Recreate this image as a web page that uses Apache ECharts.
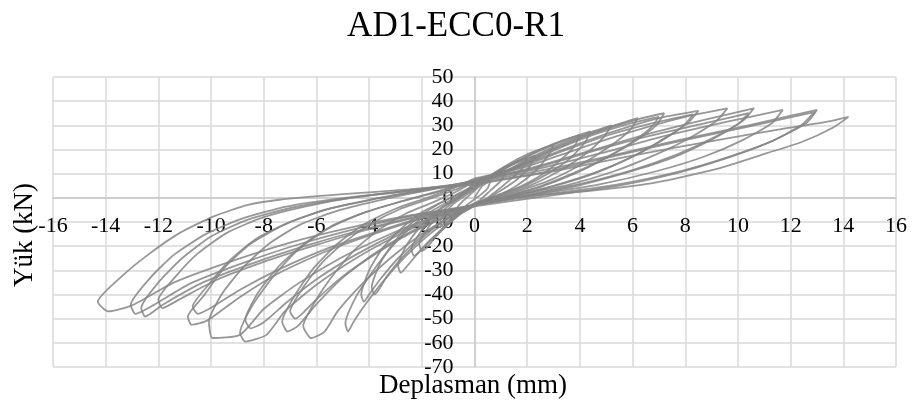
<!DOCTYPE html>
<html>
<head>
<meta charset="utf-8">
<script src="https://cdn.jsdelivr.net/npm/echarts@6/dist/echarts.min.js"></script>
<style>
html,body{margin:0;padding:0;background:#fff;}
#chart{width:912px;height:405px;}
</style>
</head>
<body>
<div id="chart"></div>
<script>
// Chart text
const chartTitle = 'AD1-ECC0-R1';
const xName = 'Deplasman (mm)';
const yName = 'Yük (kN)';

// Axis ranges / ticks
const xTicks = [-16, 16, 2];
const yTicks = [-70, 50, 10];

// Hysteresis cycles: [displacement (mm), load (kN)]
const cycle00 = [[0,0],[0.3,5],[0.6,7],[0.5,4],[0.2,1],[-0.3,-3],[-0.6,-6],[-0.7,-5],[-0.5,-2],[-0.2,1],[0,3]];
const cycle01 = [[0.4,6.5],[0.8,9],[1.2,11],[1.0,7],[0.6,3],[0.2,-1],[-0.4,-4.5],[-0.8,-8],[-1.1,-11],[-1.2,-12],[-1.3,-10],[-1.1,-6],[-0.8,-2.5],[-0.4,0.5],[0,3.5]];
const cycle02 = [[0.5,8],[1.0,11.5],[1.5,14],[2.0,16],[1.8,12],[1.3,7],[0.8,2.5],[0.3,-1.5],[-0.5,-6],[-1.0,-11],[-1.5,-16.5],[-1.8,-20.5],[-2.0,-22],[-2.1,-19],[-1.8,-13],[-1.4,-7.5],[-0.9,-2.5],[-0.4,1.5],[0,4.5]];
const cycle02b = [[0.5,8.5],[1.1,12.5],[1.7,15.5],[2.3,17.5],[2.1,13],[1.6,7.5],[1.0,3],[0.4,-1],[-0.5,-6.5],[-1.1,-12],[-1.7,-18],[-2.1,-22.5],[-2.3,-24],[-2.4,-21],[-2.1,-15],[-1.7,-9],[-1.2,-4],[-0.6,0],[0,4]];
const cycle03 = [[0.6,9],[1.3,14],[2.1,18.5],[2.6,20.5],[3.0,22],[2.8,17.5],[2.3,11],[1.6,5],[0.8,0.5],[0.2,-2],[-0.6,-7],[-1.3,-13.5],[-2.0,-21],[-2.5,-27.5],[-2.8,-31],[-2.9,-28],[-2.6,-20],[-2.1,-12.5],[-1.5,-6],[-0.9,-1.5],[-0.3,2.5],[0,5]];
const cycle04 = [[0.8,10],[1.7,15.5],[2.6,20.5],[3.4,24],[4.0,26],[3.8,21.5],[3.2,15],[2.4,8.5],[1.5,3.5],[0.6,0],[0,-2.5],[-0.8,-7],[-1.7,-14],[-2.6,-23],[-3.3,-32],[-3.6,-37.5],[-3.8,-40],[-3.9,-37],[-3.6,-27.5],[-3.1,-19],[-2.5,-11.5],[-1.8,-5.5],[-1.0,-0.5],[-0.3,3],[0,5.5]];
const cycle04b = [[0.9,10.5],[1.9,16.5],[2.9,21.5],[3.7,25],[4.4,27.5],[4.2,23],[3.6,16],[2.7,9.5],[1.7,4],[0.7,0.5],[0,-2.5],[-0.9,-7.5],[-1.9,-15],[-2.9,-25],[-3.6,-34],[-4.0,-40],[-4.2,-43],[-4.3,-40],[-4.0,-30],[-3.5,-21],[-2.8,-13],[-2.0,-6],[-1.1,-1],[-0.3,3.5],[0,6]];
const cycle05 = [[1.0,10],[2.2,17],[3.4,23],[4.5,27.5],[5.2,30],[4.9,25],[4.2,18],[3.2,11],[2.2,5.5],[1.2,1.5],[0.3,-1.5],[0,-3],[-0.8,-8],[-1.7,-15],[-2.6,-24],[-3.5,-35],[-4.2,-45],[-4.6,-51.5],[-4.8,-55.3],[-4.9,-52],[-4.5,-41],[-3.9,-31],[-3.2,-21],[-2.5,-13],[-1.7,-6],[-0.9,-1],[-0.3,3],[0,6]];
const cycle06 = [[1.2,11],[2.6,18.5],[4.0,25],[5.3,30],[6.2,33],[5.9,28],[5.1,21],[4.0,13.5],[2.8,7],[1.6,2.5],[0.5,-1],[0,-3],[-1.0,-8.5],[-2.0,-15],[-3.2,-25],[-4.3,-36],[-5.2,-47],[-5.7,-55.5],[-6.2,-58],[-6.5,-53],[-6.0,-42],[-5.3,-31],[-4.5,-21],[-3.6,-13],[-2.6,-6.5],[-1.6,-2],[-0.7,2.5],[0,7]];
const cycle07 = [[1.5,12.5],[3.0,20],[4.6,27],[6.2,32.5],[7.2,35],[6.9,30],[6.1,23.5],[5.0,16.5],[3.8,10],[2.5,4.5],[1.2,0.5],[0,-3],[-1.2,-8],[-2.5,-14.5],[-3.8,-23],[-5.0,-33],[-6.0,-44],[-6.7,-53],[-7.1,-55.3],[-7.3,-51.2],[-6.8,-40],[-6.1,-29],[-5.2,-19],[-4.2,-11],[-3.0,-4.5],[-1.8,0],[-0.8,4],[0,8]];
const cycle07b = [[1.5,12],[3.0,19.5],[4.5,26],[6.0,31],[7.0,33.5],[6.7,29],[5.9,22.5],[4.8,15.5],[3.6,9.5],[2.3,4],[1.0,0],[0,-3],[-1.2,-8.5],[-2.5,-15],[-3.8,-23.5],[-5.0,-32.5],[-6.0,-42],[-6.5,-47.5],[-6.8,-50],[-7.0,-47],[-6.5,-37],[-5.8,-27],[-4.9,-18],[-3.9,-10.5],[-2.8,-4.5],[-1.6,0],[-0.7,3.5],[0,7]];
const cycle08 = [[1.7,13],[3.5,20.5],[5.3,27.5],[7.0,33],[8.5,36],[8.1,31],[7.2,24.5],[6.0,17],[4.6,10.5],[3.0,5],[1.5,1],[0,-3],[-1.5,-8.5],[-3.0,-16],[-4.5,-25],[-6.0,-36],[-7.2,-47],[-7.9,-56.7],[-8.7,-59.5],[-8.9,-56],[-8.4,-44],[-7.6,-32],[-6.7,-21.5],[-5.6,-13],[-4.3,-6.5],[-2.8,-1.5],[-1.3,3],[0,7.5]];
const cycle08b = [[1.7,12.5],[3.4,19.5],[5.1,26],[6.8,31],[8.3,34.5],[7.9,29.5],[7.0,23],[5.8,16],[4.4,9.5],[2.9,4.5],[1.4,0.5],[0,-3],[-1.5,-8],[-3.0,-15],[-4.5,-23.5],[-5.9,-33],[-7.1,-43],[-8.0,-51.5],[-8.5,-54],[-8.7,-50.5],[-8.2,-39],[-7.4,-28],[-6.4,-18.5],[-5.3,-11],[-4.0,-5.5],[-2.6,-1],[-1.2,3],[0,7]];
const cycle09 = [[2.0,13],[4.0,20.5],[6.0,27.5],[8.0,33.5],[9.6,37],[9.2,32],[8.2,25],[6.9,18],[5.3,11],[3.6,5.5],[1.8,1.5],[0,-3],[-1.7,-8.5],[-3.4,-16],[-5.1,-25],[-6.7,-35.5],[-8.0,-46],[-8.9,-56.7],[-9.95,-58],[-10.08,-51.2],[-9.6,-40],[-8.8,-29],[-7.8,-19],[-6.6,-11],[-5.1,-5],[-3.4,-0.5],[-1.6,3.5],[0,7]];
const cycle10 = [[2.2,12.5],[4.4,19.5],[6.6,26.5],[8.8,32.5],[10.6,37],[10.2,32],[9.1,25],[7.7,18],[6.0,11.5],[4.1,6],[2.1,1.5],[0,-3],[-1.8,-8],[-3.7,-14.5],[-5.6,-22],[-7.4,-31],[-8.9,-41],[-10.15,-50.8],[-10.75,-52.5],[-10.88,-49.1],[-10.3,-40.8],[-9.5,-29],[-8.5,-19],[-7.2,-11],[-5.7,-5],[-3.8,-0.5],[-1.8,3.5],[0,7]];
const cycle10b = [[2.2,12],[4.4,19],[6.6,25.5],[8.8,31],[10.4,35],[10.0,30.5],[8.9,23.5],[7.5,16.5],[5.8,10.5],[3.9,5],[2.0,1],[0,-3],[-1.8,-7.5],[-3.7,-14],[-5.6,-21],[-7.4,-29.5],[-8.9,-38],[-10.0,-45.5],[-10.5,-48],[-10.7,-45],[-10.1,-36],[-9.3,-26],[-8.3,-17],[-7.0,-10],[-5.5,-4.5],[-3.6,0],[-1.7,3.5],[0,7]];
const cycle11 = [[2.4,12],[4.8,18.5],[7.2,25.5],[9.6,31.5],[11.7,36.4],[11.3,31],[10.2,24],[8.7,17],[6.9,11],[4.7,5.5],[2.4,1.5],[0,-3],[-2.0,-7.5],[-4.0,-13],[-6.0,-19.5],[-8.0,-26.5],[-9.8,-34],[-11.2,-42],[-11.85,-45.6],[-12.0,-42.2],[-11.3,-32],[-10.5,-23],[-9.4,-14.5],[-8.0,-8],[-6.4,-3.5],[-4.4,0.5],[-2.2,3.5],[0,6.5]];
const cycle12 = [[2.6,11.5],[5.2,17.5],[7.8,24],[10.4,30],[13.0,36.4],[12.6,31],[11.4,24],[9.8,17.5],[7.8,11],[5.4,5.5],[2.8,1.5],[0,-3],[-2.1,-7.5],[-4.2,-13],[-6.3,-19.5],[-8.4,-27],[-10.3,-35],[-11.8,-44],[-12.5,-49.1],[-12.65,-45.6],[-12.0,-35],[-11.1,-25],[-10.0,-16],[-8.6,-9],[-6.9,-4],[-4.7,0],[-2.3,3],[0,6]];
const cycle13 = [[2.6,10.5],[5.2,17],[7.8,23.5],[10.4,29.5],[12.9,35.5],[12.4,30],[11.2,23],[9.6,16.5],[7.6,10],[5.2,4.5],[2.6,0.5],[0,-3.5],[-2.2,-7],[-4.4,-12.5],[-6.6,-19],[-8.8,-27],[-10.8,-35.5],[-12.2,-44.5],[-12.87,-48],[-13.05,-44.3],[-12.3,-33],[-11.4,-23.5],[-10.2,-15],[-8.8,-8.5],[-7.1,-3.5],[-4.9,0],[-2.4,3],[0,5.5]];
const cycle14 = [[3.0,11],[6.0,17.5],[9.0,23.5],[11.7,28.5],[13.4,31.5],[14.2,33.5],[13.6,29],[12.4,23],[11.1,18.5],[9.2,12],[6.7,6],[4.0,2.5],[1.6,0.4],[0,-3],[-2.3,-7],[-4.6,-12],[-7.0,-18.5],[-9.3,-26.5],[-11.4,-35],[-13.0,-44.5],[-13.9,-47],[-14.3,-43],[-13.4,-32.6],[-12.4,-23.6],[-11.2,-14.6],[-9.9,-7.7],[-8.6,-2.9],[-7.4,-0.8],[-5.0,1.5],[-2.5,3.5],[0,6]];

const cycles = [cycle00, cycle01, cycle02, cycle02b, cycle03, cycle04, cycle04b, cycle05, cycle06, cycle07, cycle07b, cycle08, cycle08b, cycle09, cycle10, cycle10b, cycle11, cycle12, cycle13, cycle14];

const serif = '"Liberation Serif", "Times New Roman", "DejaVu Serif", serif';
const gridColor = '#d9d9d9';

// each cycle is its own series, joined to the end of the previous cycle
const series = cycles.map((c, i) => ({
  type: 'line',
  data: i === 0 ? c : [cycles[i - 1][cycles[i - 1].length - 1]].concat(c),
  showSymbol: false,
  smooth: 0.2,
  lineStyle: {color: '#858585', width: 1.8, opacity: 0.85},
  z: 3
}));

const chart = echarts.init(document.getElementById('chart'), null, {renderer: 'canvas'});
chart.setOption({
  animation: false,
  backgroundColor: '#ffffff',
  title: {
    text: chartTitle,
    left: 'center',
    top: 4,
    textStyle: {fontFamily: serif, fontSize: 35, fontWeight: 'normal', color: '#000'}
  },
  grid: {left: 53, right: 16, top: 77, bottom: 38, containLabel: false},
  xAxis: {
    type: 'value',
    position: 'bottom',
    offset: -169.2,
    min: xTicks[0], max: xTicks[1], interval: xTicks[2],
    axisLine: {onZero: false, lineStyle: {color: '#c8c8c8', width: 1.5}},
    axisTick: {show: false},
    axisLabel: {fontFamily: serif, fontSize: 22, color: '#000', margin: 17},
    splitLine: {show: true, lineStyle: {color: gridColor, width: 1.5}}
  },
  yAxis: {
    type: 'value',
    position: 'left',
    offset: -421.5,
    min: yTicks[0], max: yTicks[1], interval: yTicks[2],
    axisLine: {onZero: false, lineStyle: {color: '#c8c8c8', width: 1.5}},
    axisTick: {show: false},
    axisLabel: {fontFamily: serif, fontSize: 22, color: '#000', margin: 21},
    splitLine: {show: true, lineStyle: {color: gridColor, width: 1.5}}
  },
  graphic: [
    {type: 'text', x: 473, y: 386, style: {text: xName, fontFamily: serif, fontSize: 27, fill: '#000', align: 'center', verticalAlign: 'middle'}},
    {type: 'text', x: 25, y: 235, rotation: Math.PI / 2, style: {text: yName, fontFamily: serif, fontSize: 27, fill: '#000', align: 'center', verticalAlign: 'middle'}}
  ],
  series: series
});
</script>
</body>
</html>
